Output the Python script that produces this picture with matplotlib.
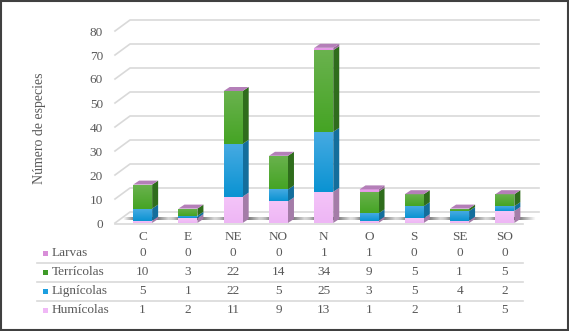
import numpy as np
import matplotlib.pyplot as plt
from matplotlib.patches import Polygon, Rectangle
from matplotlib.lines import Line2D
from matplotlib.colors import LinearSegmentedColormap
from matplotlib import transforms

plt.rcParams['font.family'] = ['Liberation Serif', 'DejaVu Serif']

# datos
categories = ['C', 'E', 'NE', 'NO', 'N', 'O', 'S', 'SE', 'SO']
humicolas = [1, 2, 11, 9, 13, 1, 2, 1, 5]
lignicolas = [5, 1, 22, 5, 25, 3, 5, 4, 2]
terricolas = [10, 3, 22, 14, 34, 9, 5, 1, 5]
larvas = [0, 0, 0, 0, 1, 1, 0, 0, 0]
yticks = [0, 10, 20, 30, 40, 50, 60, 70, 80]

# orden de apilado (abajo -> arriba)
stack = [('Humícolas', humicolas), ('Lignícolas', lignicolas),
         ('Terrícolas', terricolas), ('Larvas', larvas)]
# orden de la tabla
table_rows = [('Larvas', larvas), ('Terrícolas', terricolas),
              ('Lignícolas', lignicolas), ('Humícolas', humicolas)]

# degradado (abajo, arriba) de la cara frontal
front = {'Humícolas': ('#EEB6F5', '#F4C4F8'), 'Lignícolas': ('#0A93D2', '#46AAE2'),
         'Terrícolas': ('#45A424', '#6AB24E'), 'Larvas': ('#E495E6', '#EBA6EC')}
side = {'Humícolas': '#A47CA8', 'Lignícolas': '#146E9C',
        'Terrícolas': '#2F6D1C', 'Larvas': '#9A6A9C'}
top_col = '#B47FB8'
legend_col = {'Humícolas': '#F0B8F6', 'Lignícolas': '#1C9FE0',
              'Terrícolas': '#3E9A28', 'Larvas': '#D88ED8'}
txt = '#595959'
fs = 9.5

W, H = 569, 331
fig = plt.figure(figsize=(W / 100, H / 100), dpi=100)
ax = fig.add_axes([120 / W, (H - 223) / H, 407.5 / W, 192 / H])
ax.axis('off')

sx = 9 / 407.5   # datos por pixel (x)
sy = 80 / 192    # datos por pixel (y)
x = np.arange(len(categories))
w = 19 * sx
dx, dy = 6 * sx, 4 * sy

# paredes / cuadricula
for v in yticks:
    ax.plot([-0.5 - 5 * sx, -0.5 + 10 * sx, 8.5 + 11.5 * sx],
            [v, v + 11 * sy, v + 11 * sy], color='#D9D9D9', lw=1.2,
            clip_on=False, zorder=0)
    ax.text(-0.5 - 17 * sx, v - 1.5 * sy, str(v), ha='right', va='center',
            fontsize=fs, color=txt)
ax.plot([-0.5 - 5 * sx, 8.5 - 4.5 * sx], [-1 * sy, -1 * sy],
        color='#D9D9D9', lw=1.2, clip_on=False, zorder=0)

# sombras en el suelo
shadow = LinearSegmentedColormap.from_list(
    'sh', [(0, (0.2, 0.2, 0.2, 0)), (0.3, (0.15, 0.15, 0.15, 0.85)),
           (0.55, (0.15, 0.15, 0.15, 0.85)), (1, (0.2, 0.2, 0.2, 0))])
grad_x = np.linspace(0, 1, 64).reshape(1, -1)
for i in x:
    ax.imshow(grad_x, cmap=shadow, aspect='auto', interpolation='bilinear',
              extent=(i - w / 2 - 10 * sx, i + w / 2 + 22 * sx, 3 * sy, 5.5 * sy),
              zorder=1, clip_on=False)

# barras 3D apiladas
grad_y = np.linspace(0, 1, 64).reshape(-1, 1)
bottom = np.zeros(len(categories))
for name, vals in stack:
    vals = np.array(vals, dtype=float)
    cmap = LinearSegmentedColormap.from_list(name, list(front[name]))
    bars = ax.bar(x, vals, width=w, bottom=bottom, color=front[name][0], lw=0,
                  zorder=3, clip_on=False)
    for i, r in zip(x, bars):
        b, h = bottom[i], vals[i]
        if h > 0:
            im = ax.imshow(grad_y, cmap=cmap, aspect='auto', origin='lower',
                           extent=(i - w / 2, i + w / 2, b, b + h), zorder=3.1)
            im.set_clip_path(r)
            ax.add_patch(Polygon([(i + w / 2, b), (i + w / 2 + dx, b + dy),
                                  (i + w / 2 + dx, b + h + dy), (i + w / 2, b + h)],
                                 closed=True, fc=side[name], ec='none',
                                 zorder=3, clip_on=False))
    bottom += vals

for i in x:
    t = bottom[i]
    ax.add_patch(Polygon([(i - w / 2, t), (i + w / 2, t),
                          (i + w / 2 + dx, t + dy), (i - w / 2 + dx, t + dy)],
                         closed=True, fc=top_col, ec='none', zorder=4,
                         clip_on=False))

ax.set_xlim(-0.5, 8.5)
ax.set_ylim(0, 80)

# eje y
fig.text(40 / W, 1 - 128 / H, 'Número de especies', rotation=90,
         ha='center', va='center', fontsize=10, color=txt)

# tabla de datos
tr = transforms.blended_transform_factory(ax.transData, fig.transFigure)
for i, c in enumerate(categories):
    ax.text(i, 1 - 237 / H, c, transform=tr, ha='center', va='center',
            fontsize=fs, color=txt)
row_y = [253, 272, 291, 310]
for (name, vals), py in zip(table_rows, row_y):
    fig.patches.append(Rectangle((43 / W, 1 - (py + 2.5) / H), 5 / W, 5 / H,
                                 transform=fig.transFigure, fc=legend_col[name],
                                 ec='none'))
    fig.text(52 / W, 1 - py / H, name, ha='left', va='center',
             fontsize=fs, color=txt)
    for i, v in enumerate(vals):
        ax.text(i, 1 - py / H, str(v), transform=tr, ha='center',
                va='center', fontsize=fs, color=txt)
for py in [263, 282, 301]:
    fig.add_artist(Line2D([37 / W, 523 / W], [1 - py / H, 1 - py / H],
                          color='#D9D9D9', lw=1.2))

# marco
fig.patches.append(Rectangle((1 / W, 1 / H), 567 / W, 329 / H,
                             transform=fig.transFigure, fill=False,
                             ec='#404040', lw=1.5))

fig.savefig('out.png', dpi=100)
